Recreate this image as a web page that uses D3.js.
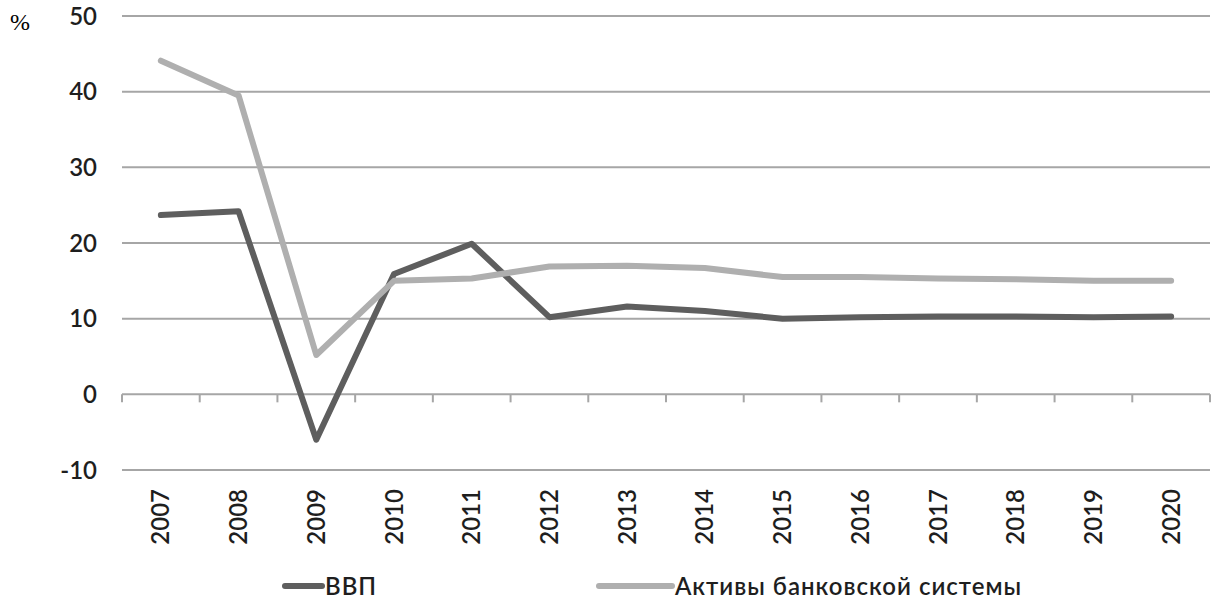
<!DOCTYPE html>
<html><head><meta charset="utf-8">
<script src="https://cdn.jsdelivr.net/npm/d3@7"></script>
<style>body{margin:0;background:#fff}</style>
</head><body>
<svg id="c" width="1218" height="606"></svg>
<script>
const years = ["2007","2008","2009","2010","2011","2012","2013","2014","2015","2016","2017","2018","2019","2020"];
const gdp = [23.7,24.2,-6.0,15.9,19.9,10.2,11.6,11.0,10.0,10.2,10.3,10.3,10.2,10.3];
const assets = [44.1,39.5,5.2,15.0,15.3,16.9,17.0,16.7,15.5,15.5,15.3,15.2,15.0,15.0];
const yTicks = [-10,0,10,20,30,40,50];
const seriesNames = ["ВВП","Активы банковской системы"];
const colors = ["#5e5e5e","#afafaf"];

const svg = d3.select("#c");
const font = "Lato, 'Open Sans', sans-serif";
const fw = 600;
const x = d3.scaleBand().domain(years).range([122,1210]);
const y = d3.scaleLinear().domain([-10,50]).range([470,16]);

// gridlines
svg.append("g").selectAll("line").data(yTicks.filter(v=>v!==0)).join("line")
  .attr("x1",122).attr("x2",1210).attr("y1",d=>y(d)).attr("y2",d=>y(d))
  .attr("stroke","#a6a6a6").attr("stroke-width",2);

// y labels
svg.append("g").selectAll("text").data(yTicks).join("text")
  .attr("x",97).attr("y",d=>y(d)).attr("dy","0.36em").attr("text-anchor","end")
  .attr("font-family",font).attr("font-weight",fw).attr("font-size",24).attr("fill","#1e1e1e").text(d=>d);

// x axis at zero
const xa = svg.append("g").attr("transform",`translate(0,${y(0)})`);
xa.append("line").attr("x1",122).attr("x2",1210).attr("stroke","#a6a6a6").attr("stroke-width",2);
const bounds = years.map(d=>x(d)).concat([x.range()[1]]);
xa.selectAll("line.t").data(bounds).join("line").attr("class","t")
  .attr("x1",d=>d).attr("x2",d=>d).attr("y1",0).attr("y2",8)
  .attr("stroke","#a6a6a6").attr("stroke-width",2);

// x labels rotated
svg.append("g").selectAll("text").data(years).join("text")
  .attr("transform",d=>`translate(${x(d)+x.bandwidth()/2},489) rotate(-90)`)
  .attr("text-anchor","end").attr("dy","0.36em")
  .attr("font-family",font).attr("font-weight",fw).attr("font-size",24).attr("fill","#1e1e1e").text(d=>d);

// lines
const line = d3.line().x((d,i)=>x(years[i])+x.bandwidth()/2).y(d=>y(d));
[gdp,assets].forEach((s,i)=>{
  svg.append("path").datum(s).attr("d",line).attr("fill","none")
    .attr("stroke",colors[i]).attr("stroke-width",6)
    .attr("stroke-linejoin","round").attr("stroke-linecap","round");
});

// legend
const leg = [{x:285,w:37},{x:599,w:73}];
seriesNames.forEach((n,i)=>{
  svg.append("line").attr("x1",leg[i].x).attr("x2",leg[i].x+leg[i].w).attr("y1",586).attr("y2",586)
    .attr("stroke",colors[i]).attr("stroke-width",6).attr("stroke-linecap","round");
  svg.append("text").attr("x",leg[i].x+leg[i].w+3).attr("y",586).attr("dy","0.36em")
    .attr("font-family",font).attr("font-weight",fw).attr("font-size",24).attr("letter-spacing",1)
    .attr("fill","#1e1e1e").text(n);
});

// % label
svg.append("text").attr("x",10).attr("y",30).attr("font-family","'Liberation Serif', serif")
  .attr("font-size",24).attr("fill","#000").text("%");
</script>
</body></html>
